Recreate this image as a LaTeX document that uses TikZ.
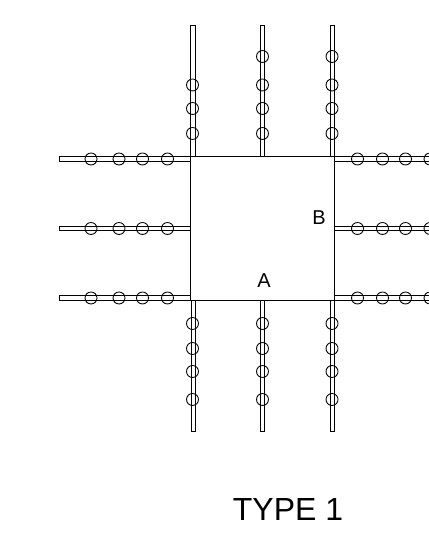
\documentclass[tikz,border=0pt]{standalone}
\usepackage{fontspec}
\setmainfont{Liberation Sans}
\tikzset{
	bar/.style={draw, line width=0.5pt},
	bolt/.style={draw, line width=0.5pt}
}

\begin{document}
\begin{tikzpicture}
	\useasboundingbox (0, 0) rectangle (8.58, 10.76);
	\clip (0, 0) rectangle (8.58, 10.76);

	%  Plate
	\draw[bar] (3.81, 7.64) rectangle (6.68, 4.76);

	% Top bars
	\draw[bar] (3.81, 7.64) rectangle (3.90, 10.25);
	\draw[bar] (5.21, 7.64) rectangle (5.29, 10.25);
	\draw[bar] (6.60, 7.64) rectangle (6.68, 10.25);

	% Bottom bars
	\draw[bar] (3.82, 4.76) rectangle (3.90, 2.13);
	\draw[bar] (5.21, 4.76) rectangle (5.29, 2.13);
	\draw[bar] (6.60, 4.76) rectangle (6.68, 2.13);

	% Left bars
	\draw[bar] (1.19, 7.63) rectangle (3.81, 7.53);
	\draw[bar] (1.19, 6.24) rectangle (3.81, 6.15);
	\draw[bar] (1.19, 4.85) rectangle (3.81, 4.76);

	% Right bars
	\draw[bar] (6.68, 7.63) rectangle (8.70, 7.53);
	\draw[bar] (6.68, 6.24) rectangle (8.70, 6.15);
	\draw[bar] (6.68, 4.85) rectangle (8.70, 4.76);

	% Bolts above (the first column has only three)
	\path[bolt] (3.85, 9.06) circle (0.12) (3.85, 8.59) circle (0.12) (3.85, 8.09) circle (0.12);
	\path[bolt] (5.25, 9.63) circle (0.12) (5.25, 9.06) circle (0.12) (5.25, 8.59) circle (0.12) (5.25, 8.09) circle (0.12);
	\path[bolt] (6.64, 9.63) circle (0.12) (6.64, 9.06) circle (0.12) (6.64, 8.59) circle (0.12) (6.64, 8.09) circle (0.12);

	% Bolts below
	\path[bolt] (3.85, 4.29) circle (0.12) (3.85, 3.79) circle (0.12) (3.85, 3.33) circle (0.12) (3.85, 2.77) circle (0.12);
	\path[bolt] (5.25, 4.29) circle (0.12) (5.25, 3.79) circle (0.12) (5.25, 3.33) circle (0.12) (5.25, 2.77) circle (0.12);
	\path[bolt] (6.64, 4.29) circle (0.12) (6.64, 3.79) circle (0.12) (6.64, 3.33) circle (0.12) (6.64, 2.77) circle (0.12);

	% Bolts on the left
	\path[bolt] (1.82, 7.58) circle (0.12) (2.38, 7.58) circle (0.12) (2.85, 7.58) circle (0.12) (3.35, 7.58) circle (0.12);
	\path[bolt] (1.82, 6.19) circle (0.12) (2.38, 6.19) circle (0.12) (2.85, 6.19) circle (0.12) (3.35, 6.19) circle (0.12);
	\path[bolt] (1.82, 4.80) circle (0.12) (2.38, 4.80) circle (0.12) (2.85, 4.80) circle (0.12) (3.35, 4.80) circle (0.12);

	% Bolts on the right
	\path[bolt] (7.15, 7.58) circle (0.12) (7.65, 7.58) circle (0.12) (8.11, 7.58) circle (0.12) (8.60, 7.58) circle (0.12);
	\path[bolt] (7.15, 6.19) circle (0.12) (7.65, 6.19) circle (0.12) (8.11, 6.19) circle (0.12) (8.60, 6.19) circle (0.12);
	\path[bolt] (7.15, 4.80) circle (0.12) (7.65, 4.80) circle (0.12) (8.11, 4.80) circle (0.12) (8.60, 4.80) circle (0.12);

	% Labels
	\node[font=\fontsize{11.4}{14}\selectfont] (labelA) at (5.28, 5.14) {A};
	\node[font=\fontsize{11.4}{14}\selectfont] (labelB) at (6.38, 6.40) {B};
	\node[font=\fontsize{18.2}{22}\selectfont] (title) at (5.76, 0.58) {TYPE 1};
\end{tikzpicture}
\end{document}
